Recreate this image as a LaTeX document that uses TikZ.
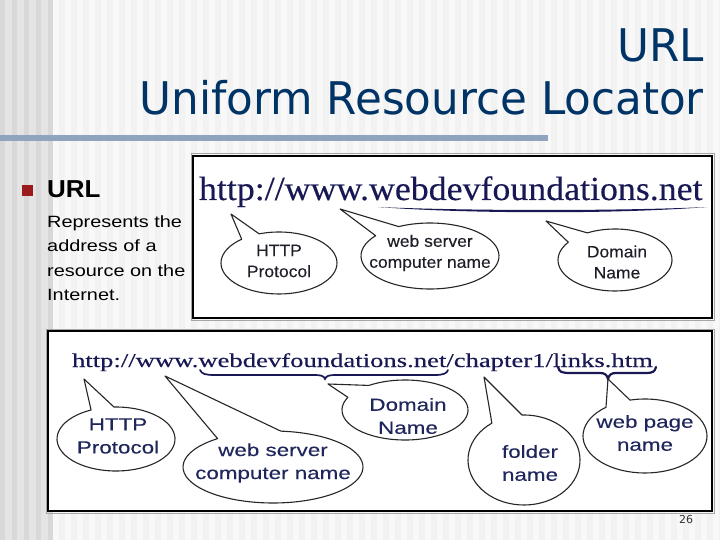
\documentclass[tikz,border=0pt]{standalone}
\usepackage{fontspec}
\setmainfont{Liberation Sans}
\newfontfamily\titlefont[FakeStretch=0.97]{DejaVu Sans}
\newfontfamily\bodyfont[FakeStretch=1.22]{Liberation Sans}
\newfontfamily\headfont[FakeStretch=1.06]{Liberation Sans}
\newfontfamily\urlAfont[FakeStretch=1.064,FakeBold=0.3]{Liberation Serif}
\newfontfamily\urlBfont[FakeStretch=1.36,FakeBold=0.3]{Liberation Serif}
\newfontfamily\lblAfont[FakeStretch=1.06,FakeBold=0.15]{Liberation Sans}
\newfontfamily\lblBfont[FakeStretch=1.28,FakeBold=0.15]{Liberation Sans}
\newfontfamily\numfont{DejaVu Sans}
\usetikzlibrary{calc}
\definecolor{titleblue}{RGB}{0,51,102}
\definecolor{rulec}{RGB}{143,164,191}
\definecolor{bulletc}{RGB}{153,27,27}
\definecolor{urlnavy}{RGB}{24,24,84}
\definecolor{lblnavy}{RGB}{30,38,92}
\definecolor{lblgray}{RGB}{30,30,40}
\definecolor{bgR}{RGB}{242,242,242}
\definecolor{bgRl}{RGB}{248,248,248}
\definecolor{bgL}{RGB}{228,228,228}
\definecolor{bgLd}{RGB}{216,216,216}
\tikzset{
  titletext/.style={font=\titlefont\fontsize{45}{54}\selectfont, text=titleblue, inner sep=0pt, anchor=base east},
  bodytext/.style={font=\bodyfont\fontsize{16.3}{20}\selectfont, text=black, inner sep=0pt, anchor=base west},
  urlA/.style={font=\urlAfont\fontsize{33.7}{40}\selectfont, text=urlnavy, inner sep=0pt, outer sep=0pt, anchor=base west},
  urlB/.style={font=\urlBfont\fontsize{19.6}{24}\selectfont, text=urlnavy, inner sep=0pt, outer sep=0pt, anchor=base west},
  lblA/.style={font=\lblAfont\fontsize{16.5}{21}\selectfont, text=lblgray, align=center, inner sep=0pt},
  lblB/.style={font=\lblBfont\fontsize{17.5}{23}\selectfont, text=lblnavy, align=center, inner sep=0pt},
  co/.style={draw=black!85, fill=white, line width=1.1pt, line join=round},
  picbox/.style={draw=black, fill=white, line width=2.6pt},
  boxshade/.style={draw=black!35, line width=1pt},
  bracec/.style={draw=urlnavy, line width=1.7pt, line cap=round},
}
% #1 centre, #2 rx, #3 ry, #4 tip, #5 #6 screen angles of tail base
\newcommand{\callout}[6]{%
  \pgfmathsetmacro\calsa{360-#5}\pgfmathsetmacro\calea{720-#6}%
  \draw[co] (#4) -- ($(#1)+(\calsa:#2pt and #3pt)$)
    arc[start angle=\calsa, end angle=\calea, x radius=#2pt, y radius=#3pt] -- cycle;}
\begin{document}
\begin{tikzpicture}[x=1pt,y=-1pt]
\useasboundingbox (0,0) rectangle (720,540);
% background
\fill[bgR] (0,0) rectangle (720,540);
\foreach \x in {53,65,...,719} \fill[bgRl] (\x,0) rectangle ++(6,540);
\fill[bgL] (0,0) rectangle (53,540);
\foreach \x in {0,12,...,48} \fill[bgLd] (\x,0) rectangle ++(5,540);
% title
\node[titletext] (t1) at (704,62) {URL};
\node[titletext] (t2) at (704,115) {Uniform Resource Locator};
\fill[rulec] (0,135) rectangle (548,141);
% bullet
\node[fill=bulletc, minimum size=11pt, inner sep=0pt] (bul) at (27.5,190.5) {};
\node[font=\headfont\bfseries\fontsize{24.5}{30}\selectfont, inner sep=0pt, anchor=base west] (hurl) at (47,197) {URL};
\node[bodytext] (b1) at (47,227) {Represents the};
\node[bodytext] (b2) at (47,251.5) {address of a};
\node[bodytext] (b3) at (47,276) {resource on the};
\node[bodytext] (b4) at (47,300.5) {Internet.};
% top picture
\draw[boxshade] (191,154) rectangle (714,320);
\draw[picbox] (193,156) rectangle (712,318);
\node[urlA] (ua1) at (199,200) {http://www.};
\node[urlA] (ua2) at (ua1.base east) {webdevfoundations.net};
\coordinate (ulA1) at (378,207);
\coordinate (ulA2) at (707,207);
\fill[urlnavy] (ulA1) .. controls (470,214) and (620,214) .. (ulA2)
   .. controls (620,211) and (470,211) .. (ulA1) -- cycle;
\coordinate (cA1) at (279,263); \coordinate (pA1) at (231,214);
\coordinate (cA2) at (430,256); \coordinate (pA2) at (340,209);
\coordinate (cA3) at (615,260); \coordinate (pA3) at (546,221);
\callout{cA1}{58}{31}{pA1}{230}{250}
\callout{cA2}{69}{33}{pA2}{218}{243}
\callout{cA3}{57}{31}{pA3}{215}{241}
\node[lblA] (lA1) at (279,261) {HTTP\\Protocol};
\node[lblA] (lA2) at (430,253) {web server\\computer name};
\node[lblA] (lA3) at (617,262) {Domain\\Name};
% bottom picture
\draw[boxshade] (46,329) rectangle (714,513);
\draw[picbox] (48,331) rectangle (712,511);
\node[urlB] (ub1) at (72,367) {http://www.};
\node[urlB] (ub2) at (ub1.base east) {webdevfoundations.net};
\node[urlB] (ub3) at (ub2.base east) {/chapter1/};
\node[urlB] (ub4) at (ub3.base east) {links.htm};
\draw[bracec] (200,370) .. controls (202,374) and (205,375) .. (215,375) -- (315,375)
   .. controls (321,375) and (324,376) .. (325,379) .. controls (326,376) and (329,375) .. (335,375)
   -- (435,375) .. controls (444,375) and (447,373) .. (448,370);
\draw[bracec, line width=2.2pt] (558,367) .. controls (559,372) and (562,373) .. (570,373) -- (600,373)
   .. controls (605,373) and (607,375) .. (608,379) .. controls (609,375) and (611,373) .. (616,373)
   -- (646,373) .. controls (652,373) and (655,372) .. (656,367);
\coordinate (cB1) at (116,439); \coordinate (pB1) at (84,379);
\coordinate (cB2) at (273,467); \coordinate (pB2) at (165,376);
\coordinate (cB3) at (405,410); \coordinate (pB3) at (328,384);
\coordinate (cB4) at (524,460); \coordinate (pB4) at (484,377);
\coordinate (cB5) at (645,436); \coordinate (pB5) at (608,379);
\callout{cB1}{59}{32}{pB1}{245}{268}
\callout{cB2}{90}{36}{pB2}{232}{275}
\callout{cB3}{63}{30}{pB3}{205}{235}
\callout{cB4}{56}{45}{pB4}{235}{268}
\callout{cB5}{62}{37}{pB5}{231}{256}
\node[lblB] (lB1) at (118,436) {HTTP\\Protocol};
\node[lblB] (lB2) at (273,463) {web server\\computer name};
\node[lblB] (lB3) at (408,416) {Domain\\Name};
\node[lblB] (lB4) at (530,463) {folder\\name};
\node[lblB] (lB5) at (645,433) {web page\\name};
\node[font=\numfont\fontsize{11}{13}\selectfont, text=black!80, inner sep=0pt] (pg) at (686,519) {26};
\end{tikzpicture}
\end{document}
